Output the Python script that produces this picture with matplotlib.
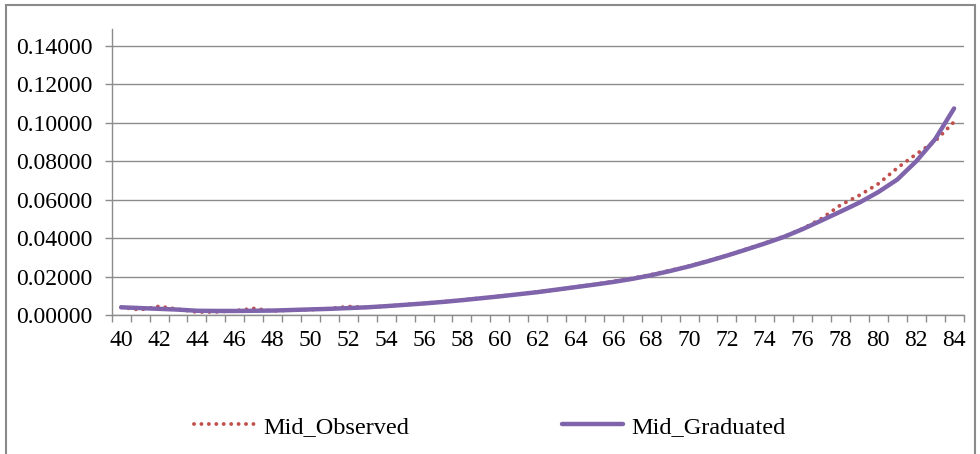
import matplotlib.pyplot as plt
from matplotlib.patches import Rectangle

plt.rcParams["font.family"] = ["Liberation Serif", "DejaVu Serif"]

ages = list(range(40, 85))

mid_observed = [
    0.0040, 0.0027, 0.0045, 0.0030, 0.0015, 0.0016, 0.0022, 0.0034, 0.0021, 0.0025,
    0.0028, 0.0033, 0.0044, 0.0039, 0.0046, 0.0054, 0.0061, 0.0069, 0.0078, 0.0088,
    0.0098, 0.0108, 0.0120, 0.0131, 0.0146, 0.0159, 0.0175, 0.0191, 0.0210, 0.0232,
    0.0255, 0.0281, 0.0310, 0.0342, 0.0374, 0.0408, 0.0449, 0.0502, 0.0572, 0.0623,
    0.0683, 0.0765, 0.0837, 0.0905, 0.1005,
]

mid_graduated = [
    0.0040, 0.0036, 0.0032, 0.0028, 0.0022, 0.0021, 0.0021, 0.0022, 0.0023, 0.0026,
    0.0029, 0.0032, 0.0036, 0.0040, 0.0046, 0.0053, 0.0060, 0.0068, 0.0077, 0.0087,
    0.0097, 0.0108, 0.0119, 0.0132, 0.0145, 0.0158, 0.0172, 0.0188, 0.0207, 0.0229,
    0.0253, 0.0280, 0.0309, 0.0340, 0.0372, 0.0406, 0.0447, 0.0492, 0.0538, 0.0585,
    0.0640, 0.0705, 0.0800, 0.0915, 0.1075,
]

y_ticks = [0.0, 0.02, 0.04, 0.06, 0.08, 0.10, 0.12, 0.14]
x_labels = list(range(40, 85, 2))

red = "#C0504D"
purple = "#7F64AC"
grey = "#8C8C8C"

fig = plt.figure(figsize=(9.8, 4.54), dpi=100)
ax = fig.add_axes([0.114, 0.3062, 0.8692, 0.6293])

# chart frame
fig.patches.append(Rectangle((6 / 980, -0.05), 969 / 980, 1.05 - 5.5 / 454,
                             transform=fig.transFigure, fill=False,
                             edgecolor="#8A8A8A", linewidth=1.5))

ax.plot(ages, mid_observed, color=red, linewidth=2.8,
        linestyle=(0, (0.01, 1.9)), dash_capstyle="round",
        label="Mid_Observed", zorder=3)
ax.plot(ages, mid_graduated, color=purple, linewidth=3.2,
        solid_capstyle="round", label="Mid_Graduated", zorder=4)

ax.set_xlim(39.5, 84.5)
ax.set_ylim(0, 0.1487)
ax.set_yticks(y_ticks)
ax.set_yticklabels([f"{v:.5f}" for v in y_ticks])
ax.set_xticks(x_labels)
ax.set_xticks([a + 0.5 for a in range(39, 85)], minor=True)

ax.grid(axis="y", color=grey, linewidth=1.0)
ax.set_axisbelow(True)
for side in ("top", "right"):
    ax.spines[side].set_visible(False)
for side in ("left", "bottom"):
    ax.spines[side].set_color(grey)
    ax.spines[side].set_linewidth(1.0)

ax.tick_params(axis="y", length=5, width=1, color=grey, pad=9, labelsize=17)
ax.tick_params(axis="x", which="major", length=0, pad=11, labelsize=17)
ax.tick_params(axis="x", which="minor", length=5, width=1, color=grey)

fig.legend(loc="center", bbox_to_anchor=(0.5, 0.06), ncol=2, frameon=False,
           fontsize=17.5, handlelength=2.5, handletextpad=0.35,
           columnspacing=6.3)

fig.savefig("out.png", dpi=100)
